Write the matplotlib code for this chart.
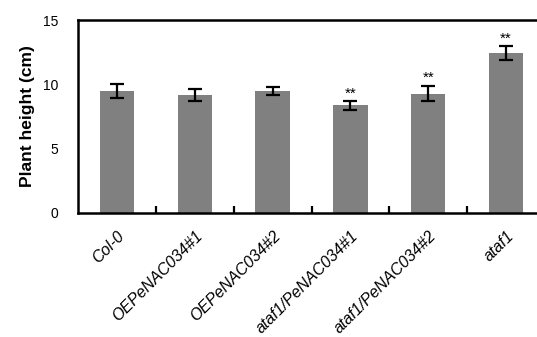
import numpy as np
import matplotlib.pyplot as plt

plt.rcParams['font.family'] = ['Liberation Sans', 'DejaVu Sans']

# plant height per line (cm)
lines = ['Col-0', 'OEPeNAC034#1', 'OEPeNAC034#2',
         'ataf1/PeNAC034#1', 'ataf1/PeNAC034#2', 'ataf1']
height = [9.48, 9.15, 9.48, 8.36, 9.28, 12.42]
err = [0.56, 0.46, 0.28, 0.32, 0.6, 0.55]
marks = ['', '', '', '**', '**', '**']

fig = plt.figure(figsize=(5.37, 3.37), dpi=100)
ax = fig.add_axes([78 / 537, 1 - 213 / 337, 467 / 537, 193 / 337])

x = np.arange(len(lines))
ax.bar(x, height, width=0.44, color='#808080', zorder=1)
ax.errorbar(x, height, yerr=err, fmt='none', ecolor='black',
            elinewidth=1.6, capsize=5, capthick=1.6, zorder=2)

for xi, h, e, m in zip(x, height, err, marks):
    if m:
        ax.text(xi, h + e + 0.05, m, ha='center', va='bottom', fontsize=11)

ax.set_xlim(-0.5, len(lines) - 0.5)
ax.set_ylim(0, 15)
ax.set_yticks([0, 5, 10, 15])
ax.tick_params(axis='y', length=0, labelsize=10, pad=14)

# category labels centred under bars, tick marks at boundaries
ax.set_xticks(x)
ax.set_xticklabels(lines, rotation=45, ha='right', rotation_mode='anchor',
                   fontsize=11.5, fontstyle='italic')
ax.tick_params(axis='x', which='major', length=0, pad=11)
ax.set_xticks(np.arange(0.5, len(lines) - 0.5), minor=True)
ax.tick_params(axis='x', which='minor', direction='in', length=5, width=1.6)

ax.set_ylabel('Plant height (cm)', fontsize=12.5, fontweight='bold', labelpad=6)

for side in ['left', 'top', 'bottom']:
    ax.spines[side].set_linewidth(1.8)
ax.spines['right'].set_visible(False)

fig.savefig('out.png', dpi=100)
